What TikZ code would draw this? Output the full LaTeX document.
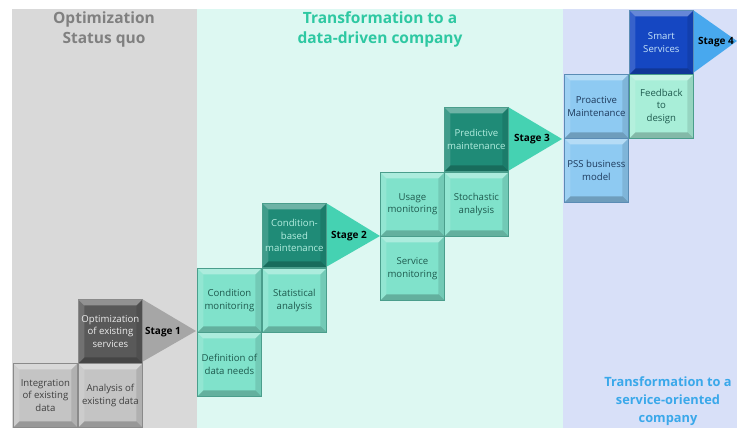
\documentclass[tikz,border=0pt]{standalone}
\usepackage{fontspec}
\setmainfont{Open Sans}
\definecolor{gpanel}{HTML}{D9D9D9}
\definecolor{tpanel}{HTML}{DDF8F2}
\definecolor{bpanel}{HTML}{D8E0F8}
\definecolor{gbox}{HTML}{C4C4C4}
\definecolor{gborder}{HTML}{8A8A8A}
\definecolor{gdark}{HTML}{595959}
\definecolor{garrow}{HTML}{A6A6A6}
\definecolor{gtitle}{HTML}{808080}
\definecolor{tbox}{HTML}{80E2CB}
\definecolor{tborder}{HTML}{4A9E8C}
\definecolor{tdark}{HTML}{1F8B77}
\definecolor{tarrow}{HTML}{45D2B2}
\definecolor{ttitle}{HTML}{2EC8A2}
\definecolor{ttext}{HTML}{1E5A4E}
\definecolor{bbox}{HTML}{8ECAF2}
\definecolor{bborder}{HTML}{5A8CB5}
\definecolor{bdark}{HTML}{1547C2}
\definecolor{barrow}{HTML}{48A8EE}
\definecolor{btitle}{HTML}{3AA8EA}
\definecolor{btext}{HTML}{1E3A5C}
\definecolor{fbox}{HTML}{A8EED8}
\tikzset{
  tile/.style={draw=#1, line width=0.8pt, minimum width=64pt, minimum height=64pt,
    inner sep=0pt, anchor=north west, align=center, font=\fontsize{9.6}{12.5}\selectfont,
    path picture={
      \coordinate (nw) at (path picture bounding box.north west);
      \coordinate (ne) at (path picture bounding box.north east);
      \coordinate (sw) at (path picture bounding box.south west);
      \coordinate (se) at (path picture bounding box.south east);
      \fill[white, opacity=0.35] (nw) -- (ne) -- ([xshift=-6pt,yshift=-6pt]ne) -- ([xshift=6pt,yshift=-6pt]nw) -- cycle;
      \fill[white, opacity=0.15] (nw) -- (sw) -- ([xshift=6pt,yshift=6pt]sw) -- ([xshift=6pt,yshift=-6pt]nw) -- cycle;
      \fill[black, opacity=0.10] (ne) -- (se) -- ([xshift=-6pt,yshift=6pt]se) -- ([xshift=-6pt,yshift=-6pt]ne) -- cycle;
      \fill[black, opacity=0.22] (sw) -- (se) -- ([xshift=-6pt,yshift=6pt]se) -- ([xshift=6pt,yshift=6pt]sw) -- cycle;
    }},
  title/.style={font=\bfseries\fontsize{15.5}{20}\selectfont, align=center},
  smalltitle/.style={font=\bfseries\fontsize{12.8}{18}\selectfont, align=center},
  stagelbl/.style={font=\bfseries\fontsize{10}{12}\selectfont, text=black},
}
\begin{document}
\begin{tikzpicture}[x=1pt, y=-1pt]
\useasboundingbox (0,0) rectangle (737,428);
% panels
\fill[white] (0,0) rectangle (737,428);
\fill[gpanel] (12,9) rectangle (197,428);
\fill[tpanel] (197,9) rectangle (563,428);
\fill[bpanel] (563,9) rectangle (737,428);
% titles
\node[title, text=gtitle] (t1) at (104,29) {Optimization\\Status quo};
\node[title, text=ttitle] (t2) at (380,29) {Transformation to a\\data-driven company};
\node[smalltitle, text=btitle] (t3) at (668,401) {Transformation to a\\service-oriented\\company};
% stage 1
\fill[garrow] (142,299) -- (142,362) -- (196,331) -- cycle;
\node[tile=gborder, fill=gdark, text=white!85!gray] (opt) at (78,299) {Optimization\\of existing\\services};
\node[tile=gborder, fill=gbox, text=black!75] (integ) at (13,363) {Integration\\of existing\\data};
\node[tile=gborder, fill=gbox, text=black!75] (anal) at (78,363) {Analysis of\\existing data};
\node[stagelbl] (s1) at (163,332) {Stage 1};
% stage 2
\fill[tarrow] (326,203) -- (326,267) -- (380,236) -- cycle;
\node[tile=tborder, fill=tdark, text=tbox!60!white] (cbm) at (262,203) {Condition-\\based\\maintenance};
\node[tile=tborder, fill=tbox, text=ttext] (cm) at (197,268) {Condition\\monitoring};
\node[tile=tborder, fill=tbox, text=ttext] (stat) at (262,268) {Statistical\\analysis};
\node[tile=tborder, fill=tbox, text=ttext] (def) at (197,332) {Definition of\\data needs};
\node[stagelbl] (s2) at (349,236) {Stage 2};
% stage 3
\fill[tarrow] (508,107) -- (508,171) -- (562,139) -- cycle;
\node[tile=tborder, fill=tdark, text=tbox!60!white] (pred) at (444,107) {Predictive\\maintenance};
\node[tile=tborder, fill=tbox, text=ttext] (usage) at (380,172) {Usage\\monitoring};
\node[tile=tborder, fill=tbox, text=ttext] (stoch) at (444,172) {Stochastic\\analysis};
\node[tile=tborder, fill=tbox, text=ttext] (servm) at (380,236) {Service\\monitoring};
\node[stagelbl] (s3) at (532,139) {Stage 3};
% stage 4
\fill[barrow] (693,10) -- (693,73) -- (737,41) -- cycle;
\node[tile=bborder, fill=bdark, text=bbox!50!white] (smart) at (629,10) {Smart\\Services};
\node[tile=bborder, fill=bbox, text=btext] (pro) at (564,74) {Proactive\\Maintenance};
\node[tile=tborder, fill=fbox, text=ttext] (feed) at (629,74) {Feedback\\to\\design};
\node[tile=bborder, fill=bbox, text=btext] (pss) at (564,138) {PSS business\\model};
\node[stagelbl] (s4) at (716,42) {Stage 4};
\end{tikzpicture}
\end{document}
